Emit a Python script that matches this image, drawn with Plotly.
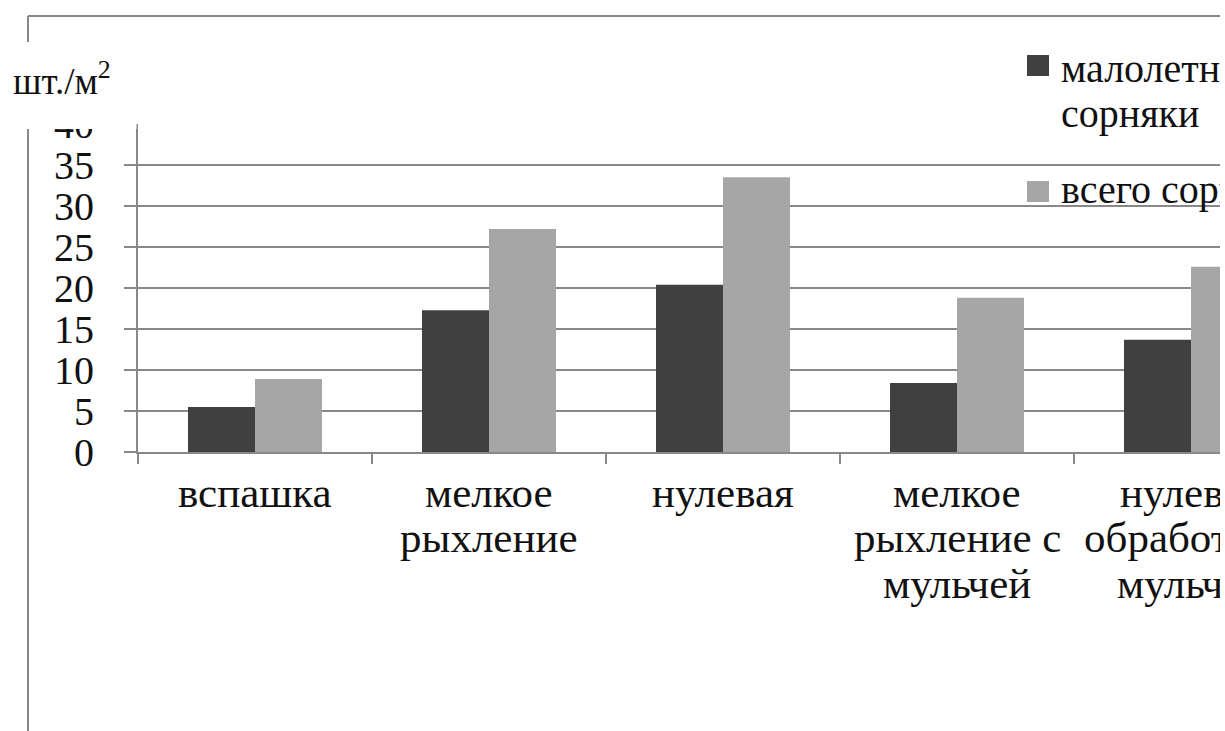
import plotly.graph_objects as go

# Weed counts per tillage system, pcs per square metre
categories = [
    "вспашка",
    "мелкое<br>рыхление",
    "нулевая",
    "мелкое<br>рыхление с<br>мульчей",
    "нулевая<br>обработка с<br>мульчей",
]
annual_weeds = [5.5, 17.3, 20.4, 8.4, 13.7]
total_weeds = [8.9, 27.2, 33.5, 18.8, 22.6]
series_names = ["малолетние<br>сорняки", "всего сорняков"]
series_colors = ["#404040", "#a6a6a6"]
y_ticks = [0, 5, 10, 15, 20, 25, 30, 35, 40]

W, H = 1220, 731
L, R, T, B = 138, 1220, 124, 452  # plot area in pixels
GRID = "#888888"
FONT = "Liberation Serif"
TEXT = "#111111"


def px(x):
    return (x - L) / (R - L)


def py(y):
    return (B - y) / (B - T)


fig = go.Figure()
for vals, name, color in zip([annual_weeds, total_weeds], series_names, series_colors):
    fig.add_trace(go.Bar(x=categories, y=vals, name=name.replace("<br>", " "),
                         marker=dict(color=color, line=dict(width=0)),
                         showlegend=False))

shapes = [
    # outer chart frame (top and left edges)
    dict(type="line", xref="paper", yref="paper", x0=px(28), x1=px(1230),
         y0=py(16), y1=py(16), line=dict(color=GRID, width=2), layer="above"),
    dict(type="line", xref="paper", yref="paper", x0=px(28), x1=px(28),
         y0=py(16), y1=py(740), line=dict(color=GRID, width=2), layer="above"),
    # white box behind the unit label
    dict(type="rect", xref="paper", yref="paper", x0=px(0), x1=px(136.5),
         y0=py(42), y1=py(129), fillcolor="white", line=dict(width=0),
         layer="above"),
]

annotations = [dict(text="шт./м<sup>2</sup>", xref="paper", yref="paper",
                    x=px(11), y=py(78), xanchor="left", yanchor="middle",
                    showarrow=False, font=dict(family=FONT, size=37, color=TEXT))]

# category labels, one text per line for tight line spacing
LINE = 45.5
for i, cat in enumerate(categories):
    for j, line in enumerate(cat.split("<br>")):
        annotations.append(dict(
            text=line, xref="x", yref="paper", x=i, y=py(492 + j * LINE),
            xanchor="center", yanchor="middle", showarrow=False,
            font=dict(family=FONT, size=43, color=TEXT)))

# legend: colour squares with series names
legend_rows = [[69, 114], [189]]
for k, (name, color) in enumerate(zip(series_names, series_colors)):
    top = [55, 181][k]
    shapes.append(dict(type="rect", xref="paper", yref="paper",
                       x0=px(1027), x1=px(1049), y0=py(top), y1=py(top + 21),
                       fillcolor=color, line=dict(width=0), layer="above"))
    for j, line in enumerate(name.split("<br>")):
        annotations.append(dict(
            text=line, xref="paper", yref="paper", x=px(1059),
            y=py(legend_rows[k][j]), xanchor="left", yanchor="middle",
            showarrow=False, font=dict(family=FONT, size=40, color=TEXT)))

fig.update_layout(
    width=W, height=H,
    margin=dict(l=L, r=W - R, t=T, b=H - B, autoexpand=False),
    paper_bgcolor="white", plot_bgcolor="white",
    barmode="group", bargap=100 / 234, bargroupgap=0,
    font=dict(family=FONT, color=TEXT, size=38),
    showlegend=False,
    shapes=shapes,
    annotations=annotations,
)

fig.update_xaxes(
    range=[-0.5, -0.5 + (R - L) / 234],
    showline=True, linecolor=GRID, linewidth=2,
    ticks="outside", tickson="boundaries", ticklen=10, tickwidth=2,
    tickcolor=GRID, showgrid=False, showticklabels=False,
)
fig.update_yaxes(
    range=[0, 40], tickvals=y_ticks, ticktext=[str(v) for v in y_ticks],
    showline=True, linecolor=GRID, linewidth=2,
    ticks="outside", ticklen=12, tickwidth=2, tickcolor=GRID,
    showgrid=True, gridcolor=GRID, gridwidth=2, zeroline=False,
    tickfont=dict(family=FONT, size=40), ticklabelstandoff=22,
)

fig.write_html("out.html")
